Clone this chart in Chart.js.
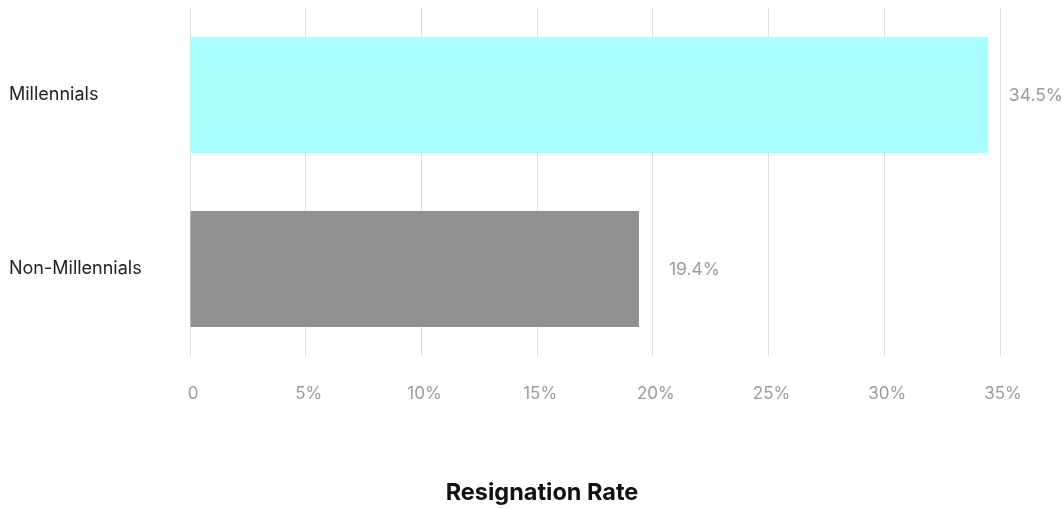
<!DOCTYPE html>
<html>
<head>
<meta charset="utf-8">
<script src="https://cdn.jsdelivr.net/npm/chart.js@4/dist/chart.umd.min.js"></script>
<style>
  html, body { margin: 0; padding: 0; background: #fff; }
  #wrap { width: 1063px; height: 508px; }
</style>
</head>
<body>
<div id="wrap"><canvas id="rateChart"></canvas></div>
<script>
// 세대별 퇴사율
const groups = ['Millennials', 'Non-Millennials'];
const rates = [34.5, 19.4];
const barColors = ['#a8fefe', '#919191'];
const chartTitle = 'Resignation Rate';

const FONT = 'Inter, "Noto Sans", sans-serif';

// 막대 끝 값 + 하단 제목
const valueLabels = {
    id: 'valueLabels',
    afterDatasetsDraw(chart) {
        const ctx = chart.ctx;
        const meta = chart.getDatasetMeta(0);
        ctx.save();
        ctx.font = '17.5px ' + FONT;
        ctx.fillStyle = '#9a9a9a';
        ctx.textBaseline = 'middle';
        ctx.textAlign = 'left';
        meta.data.forEach((bar, i) => {
            const text = rates[i] + '%';
            const w = ctx.measureText(text).width;
            let x = bar.x + 30;
            if (x + w > chart.width) x = chart.width - w;
            ctx.fillText(text, x, bar.y + 1);
        });

        ctx.font = 'bold 23.5px ' + FONT;
        ctx.fillStyle = '#111';
        ctx.textAlign = 'center';
        ctx.fillText(chartTitle, 542, 493);
        ctx.restore();
    }
};

new Chart(document.getElementById('rateChart'), {
    type: 'bar',
    data: {
        labels: groups,
        datasets: [{
            data: rates,
            backgroundColor: barColors,
            borderWidth: 0,
            categoryPercentage: 0.667,
            barPercentage: 1
        }]
    },
    options: {
        indexAxis: 'y',
        responsive: true,
        maintainAspectRatio: false,
        animation: false,
        layout: { padding: { top: 8, left: 9, right: 63, bottom: 0 } },
        plugins: {
            legend: { display: false },
            tooltip: { enabled: false },
            title: { display: false }
        },
        scales: {
            x: {
                min: 0,
                max: 35,
                border: { display: false },
                grid: { color: '#dedede', lineWidth: 1, drawTicks: false },
                ticks: {
                    stepSize: 5,
                    padding: 28,
                    labelOffset: 3,
                    color: '#9a9a9a',
                    font: { family: FONT, size: 17 },
                    callback: v => v === 0 ? '0' : v + '%'
                },
                afterFit(axis) { axis.height = 152; }
            },
            y: {
                border: { display: false },
                grid: { display: false },
                ticks: {
                    crossAlign: 'far',
                    color: '#222',
                    font: { family: FONT, size: 18 }
                },
                afterFit(axis) {
                    axis.width = 181;
                    axis.paddingTop = 0;
                    axis.paddingBottom = 0;
                }
            }
        }
    },
    plugins: [valueLabels]
});
</script>
</body>
</html>
